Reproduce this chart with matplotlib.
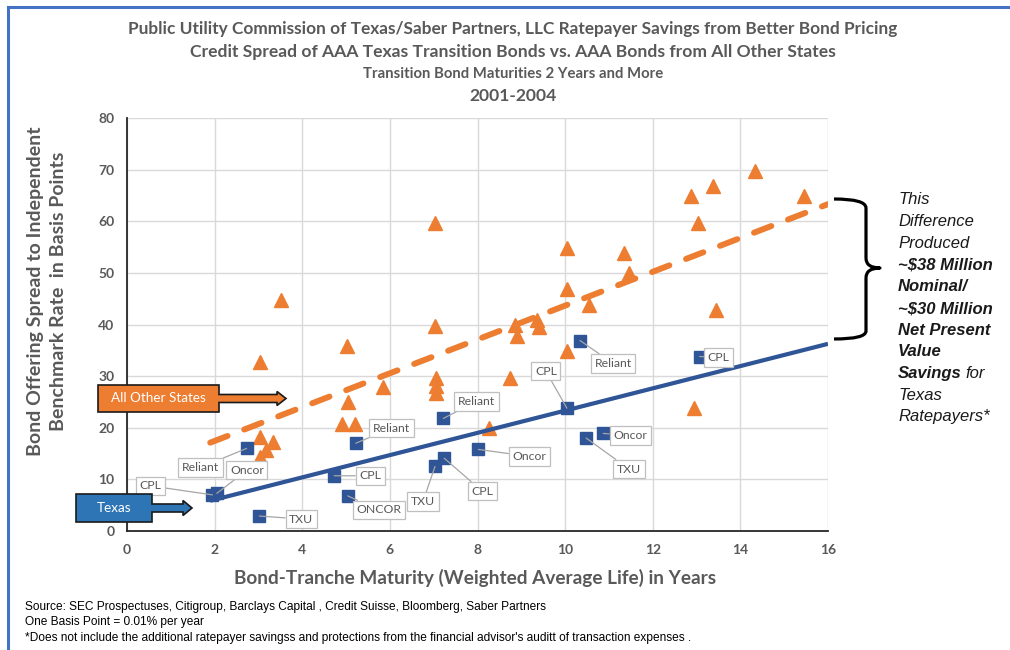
import numpy as np
import matplotlib.pyplot as plt
from matplotlib.patches import Polygon, PathPatch
from matplotlib.path import Path

# AAA bonds from all other states (spread in bp vs weighted average life in years)
other_wal = [3.04, 3.33, 3.17, 3.04, 3.04, 3.52, 4.90, 5.20, 5.05, 5.02, 5.84,
             7.05, 7.05, 7.05, 7.03, 7.03, 8.27, 8.74, 8.86, 8.91, 9.35, 9.41,
             10.04, 10.04, 10.04, 10.55, 11.35, 11.45, 12.87, 13.04, 12.95,
             13.37, 13.45, 14.34, 15.46]
other_bp = [18.2, 17.2, 15.7, 14.3, 32.8, 44.8, 20.7, 20.7, 24.9, 35.8, 27.8,
            29.6, 28.0, 26.7, 39.8, 59.7, 19.9, 29.6, 39.9, 37.7, 40.9, 39.5,
            34.8, 46.8, 54.8, 43.8, 53.8, 49.9, 64.8, 59.7, 23.8,
            66.9, 42.8, 69.8, 64.8]

# AAA Texas transition bonds
texas_wal = [1.95, 2.05, 2.73, 3.02, 4.73, 5.04, 5.22, 7.03, 7.24, 7.22, 8.02,
             10.04, 10.34, 10.48, 10.87, 13.07]
texas_bp = [7.0, 7.3, 16.0, 2.9, 10.7, 6.8, 17.0, 12.5, 14.1, 21.8, 15.8,
            23.8, 36.9, 18.0, 18.9, 33.8]
texas_names = ['CPL', 'Oncor', 'Reliant', 'TXU', 'CPL', 'ONCOR', 'Reliant', 'TXU',
               'CPL', 'Reliant', 'Oncor', 'CPL', 'Reliant', 'TXU', 'Oncor', 'CPL']

trend_span = [1.9, 16.0]
x_ticks = list(range(0, 17, 2))
y_ticks = list(range(0, 81, 10))

# label placement (pixels from the point)
label_offsets = [(-62, 9), (30, 23), (-46, -19), (42, -3), (36, 0), (31, -14),
                 (36, 15), (-12, -35), (38, -33), (33, 17), (51, -7), (-21, 37),
                 (33, -23), (43, -31), (27, -2), (19, -1)]

W, H = 1010, 650
GRAY = '#595959'
ORANGE = '#ED7D31'
NAVY = '#2F5597'
CAL = ['Lato', 'DejaVu Sans']
ARIAL = ['Liberation Sans', 'DejaVu Sans']


def fp(x, y):
    # pixel (from top left) -> figure fraction
    return (x / W, 1 - y / H)


fig = plt.figure(figsize=(W / 100, H / 100), dpi=100)
ax = fig.add_axes([127 / W, 1 - 531 / H, (828 - 127) / W, (531 - 118) / H])

ax.set_xlim(0, 16)
ax.set_ylim(0, 80)
ax.set_xticks(x_ticks)
ax.set_yticks(y_ticks)
ax.grid(True, color='#d9d9d9', linewidth=1)
ax.set_axisbelow(True)
for s in ['top', 'right']:
    ax.spines[s].set_visible(False)
for s in ['left', 'bottom']:
    ax.spines[s].set_color('#262626')
    ax.spines[s].set_linewidth(1.3)
ax.tick_params(length=0, pad=9, labelcolor=GRAY)
for lab in ax.get_xticklabels() + ax.get_yticklabels():
    lab.set_family(CAL)
    lab.set_fontweight('bold')
    lab.set_fontsize(10)

# trend lines
tx = np.array(trend_span)
b_o = np.polyfit(other_wal, other_bp, 1)
b_t = np.polyfit(texas_wal, texas_bp, 1)

ax.plot(other_wal, other_bp, '^', color=ORANGE, markersize=10, zorder=3)
ax.plot(tx, np.polyval(b_o, tx), color=ORANGE, lw=4.3, dashes=(3.1, 3.0),
        dash_capstyle='round', zorder=2)
ax.plot(tx, np.polyval(b_t, tx), color=NAVY, lw=3, solid_capstyle='butt', zorder=4)
ax.plot(texas_wal, texas_bp, 's', color=NAVY, markersize=9.3, zorder=5)

for name, x, y, off in zip(texas_names, texas_wal, texas_bp, label_offsets):
    ax.annotate(name, (x, y), xytext=off, textcoords='offset pixels',
                ha='center', va='center', fontsize=8.8, family=CAL, color=GRAY,
                bbox=dict(boxstyle='square,pad=0.3', fc='white', ec='#bfbfbf', lw=0.9),
                arrowprops=dict(arrowstyle='-', color='#a6a6a6', lw=0.9,
                                shrinkA=0, shrinkB=0),
                zorder=6)

# titles
title_lines = [
    ('Public Utility Commission of Texas/Saber Partners, LLC Ratepayer Savings from Better Bond Pricing', 29, 12.4),
    ('Credit Spread of AAA Texas Transition Bonds vs. AAA Bonds from All Other States', 52, 12.6),
    ('Transition Bond Maturities 2 Years and More', 74, 10.7),
    ('2001-2004', 96, 12.6),
]
for txt, y, fs in title_lines:
    fig.text(*fp(513, y), txt, ha='center', va='center', fontsize=fs,
             fontweight='bold', family=CAL, color=GRAY)

fig.text(*fp(47, 291), 'Bond Offering Spread to Independent\nBenchmark Rate  in Basis Points',
         rotation=90, ha='center', va='center', fontsize=14, fontweight='bold',
         family=CAL, color=GRAY, linespacing=1.4, multialignment='center')
fig.text(*fp(475, 578), 'Bond-Tranche Maturity (Weighted Average Life) in Years',
         ha='center', va='center', fontsize=13.7, fontweight='bold', family=CAL, color=GRAY)

# callout arrows
def callout(x0, x1, top, bot, shaft_end, tip, shaft_h, head_h, fill, text, tx_c):
    mid = (top + bot) / 2
    pts = [(x0, top), (x1, top), (x1, mid - shaft_h / 2), (shaft_end, mid - shaft_h / 2),
           (shaft_end, mid - head_h / 2), (tip, mid), (shaft_end, mid + head_h / 2),
           (shaft_end, mid + shaft_h / 2), (x1, mid + shaft_h / 2), (x1, bot), (x0, bot)]
    poly = Polygon([fp(*p) for p in pts], closed=True, transform=fig.transFigure,
                   fc=fill, ec='#1a1a1a', lw=1.2, zorder=10)
    fig.add_artist(poly)
    fig.text(*fp(tx_c, mid), text, ha='center', va='center', color='white',
             fontsize=9.7, family=CAL, zorder=11)


callout(98, 219, 385, 412, 277, 286, 8, 14, ORANGE, 'All Other States', 158)
callout(76, 152, 494, 522, 183, 192, 8, 15, '#2E75B6', 'Texas', 114)

# curly brace
verts = [fp(834, 199), fp(866, 199), fp(866, 208), fp(866, 258), fp(866, 268),
         fp(880, 268), fp(866, 268), fp(866, 278), fp(866, 331), fp(866, 339), fp(834, 339)]
codes = [Path.MOVETO, Path.CURVE3, Path.CURVE3, Path.LINETO, Path.CURVE3, Path.CURVE3,
         Path.CURVE3, Path.CURVE3, Path.LINETO, Path.CURVE3, Path.CURVE3]
fig.add_artist(PathPatch(Path(verts, codes), transform=fig.transFigure, fc='none',
                         ec='black', lw=2.3, capstyle='butt', joinstyle='round'))

# savings note
note = [('This', 'normal'), ('Difference', 'normal'), ('Produced', 'normal'),
        ('~$38 Million', 'bold'), ('Nominal/', 'bold'), ('~$30 Million', 'bold'),
        ('Net Present', 'bold'), ('Value', 'bold'), ('Savings', 'bold'),
        ('Texas', 'normal'), ('Ratepayers*', 'normal')]
for i, (txt, wt) in enumerate(note):
    t = fig.text(*fp(898, 200 + i * 21.7), txt, ha='left', va='center', fontsize=12,
                 style='italic', fontweight=wt, family=ARIAL, color='#1a1a1a')
    if txt == 'Savings':
        ax.annotate('for', xy=(1, 0.5), xycoords=t, xytext=(4, 0),
                    textcoords='offset pixels', ha='left', va='center',
                    fontsize=12, style='italic', family=ARIAL, color='#1a1a1a',
                    annotation_clip=False)

# footnotes
foot = ['Source: SEC Prospectuses, Citigroup, Barclays Capital , Credit Suisse, Bloomberg, Saber Partners',
        'One Basis Point = 0.01% per year',
        "*Does not include the additional ratepayer savingss and protections from the financial advisor's auditt of transaction expenses ."]
for i, txt in enumerate(foot):
    fig.text(*fp(25, 607 + i * 15.5), txt, ha='left', va='center', fontsize=8.6,
             family=ARIAL, color='black')

# frame
fig.add_artist(plt.Line2D([8 / W, 8 / W], [0, 1 - 7 / H], transform=fig.transFigure,
                          color='#4472C4', lw=2.2))
fig.add_artist(plt.Line2D([8 / W, 1], [1 - 7 / H, 1 - 7 / H], transform=fig.transFigure,
                          color='#4472C4', lw=2.2))

fig.savefig('out.png', dpi=100)
